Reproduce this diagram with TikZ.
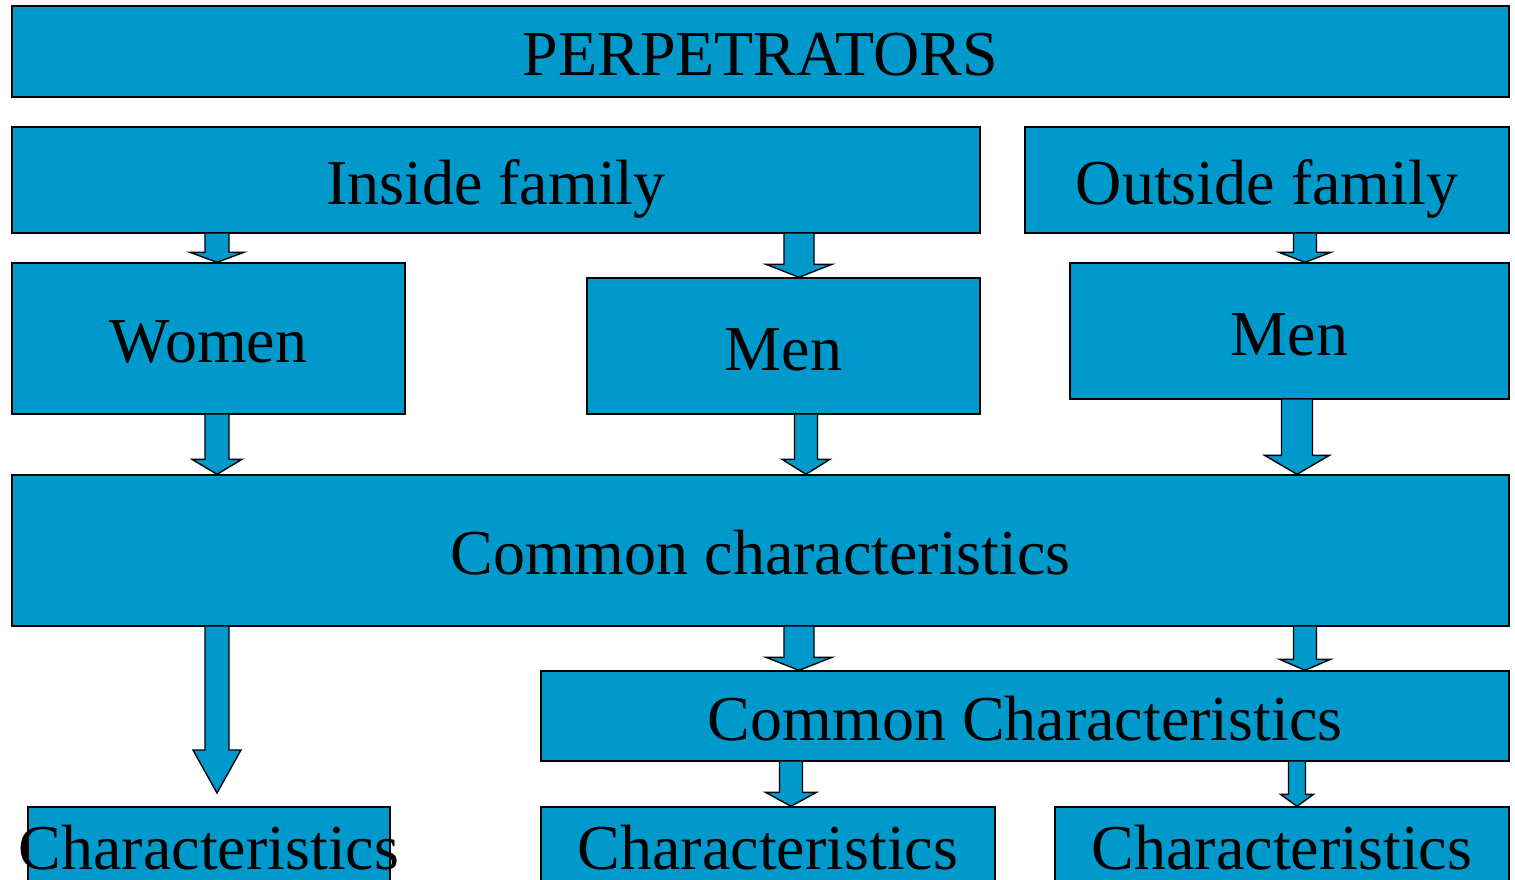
\documentclass[tikz,border=0pt]{standalone}
\usepackage{fontspec}
\setmainfont{Liberation Serif}
\usetikzlibrary{calc}
\definecolor{boxblue}{RGB}{0,153,204}
\tikzset{
  box/.style={draw=black, fill=boxblue, line width=1.4pt, inner sep=0pt,
    font=\fontsize{64}{70}\selectfont, text height=48pt, text depth=0pt},
  arrfill/.style={fill=boxblue},
  arrline/.style={draw=black, line width=1.4pt, line join=miter}
}
% #1 x centre, #2 shaft half width, #3 head half width, #4 head length, #5 start, #6 tip
\newcommand\blockarr[6]{%
  \fill[arrfill] let \p1=(#5), \p2=(#6) in
    ({(#1-#2)*1pt},\y1) -- ({(#1-#2)*1pt},{\y2+#4*1pt}) -- ({(#1-#3)*1pt},{\y2+#4*1pt})
    -- ({#1*1pt},\y2) -- ({(#1+#3)*1pt},{\y2+#4*1pt}) -- ({(#1+#2)*1pt},{\y2+#4*1pt})
    -- ({(#1+#2)*1pt},\y1) -- cycle;
  \draw[arrline] let \p1=(#5), \p2=(#6) in
    ({(#1-#2)*1pt},\y1) -- ({(#1-#2)*1pt},{\y2+#4*1pt}) -- ({(#1-#3)*1pt},{\y2+#4*1pt})
    -- ({#1*1pt},\y2) -- ({(#1+#3)*1pt},{\y2+#4*1pt}) -- ({(#1+#2)*1pt},{\y2+#4*1pt})
    -- ({(#1+#2)*1pt},\y1);
}
\begin{document}
\begin{tikzpicture}[x=1pt,y=-1pt]
\useasboundingbox (0,0) rectangle (1515,880);
\node[box, minimum width=1497pt, minimum height=91pt] (perp) at (760.5,51.5) {PERPETRATORS};
\node[box, minimum width=968pt, minimum height=106pt] (inside) at (496,180) {Inside family};
\node[box, minimum width=484pt, minimum height=106pt] (outside) at (1267,180) {Outside family};
\node[box, minimum width=393pt, minimum height=151pt] (women) at (208.5,338.5) {Women};
\node[box, minimum width=393pt, minimum height=136pt] (mena) at (783.5,346) {Men};
\node[box, minimum width=439pt, minimum height=136pt] (menb) at (1289.5,331) {Men};
\node[box, minimum width=1497pt, minimum height=151pt] (common) at (760.5,550.5) {Common characteristics};
\node[box, minimum width=968pt, minimum height=90pt] (commonc) at (1025,716) {Common Characteristics};
\node[box, minimum width=362pt, minimum height=76pt] (charl) at (209,845) {\makebox[0pt]{Characteristics}};
\node[box, minimum width=454pt, minimum height=76pt] (charm) at (768,845) {Characteristics};
\node[box, minimum width=454pt, minimum height=76pt] (charr) at (1282,845) {Characteristics};
\coordinate (tipl) at (217,793);

\blockarr{217}{12}{27}{10}{inside.south}{women.north}
\blockarr{799}{15}{33}{13}{inside.south}{mena.north}
\blockarr{1305}{11.5}{26}{10}{outside.south}{menb.north}
\blockarr{217}{12}{25}{15}{women.south}{common.north}
\blockarr{806}{11.5}{24}{15}{mena.south}{common.north}
\blockarr{1297}{15.5}{32.5}{19}{menb.south}{common.north}
\blockarr{217}{12}{24}{43}{common.south}{tipl}
\blockarr{799}{15}{33}{13}{common.south}{commonc.north}
\blockarr{1305}{11.5}{25.5}{11}{common.south}{commonc.north}
\blockarr{791}{11.5}{25.5}{14}{commonc.south}{charm.north}
\blockarr{1297}{8.5}{16.5}{12}{commonc.south}{charr.north}
\end{tikzpicture}
\end{document}
